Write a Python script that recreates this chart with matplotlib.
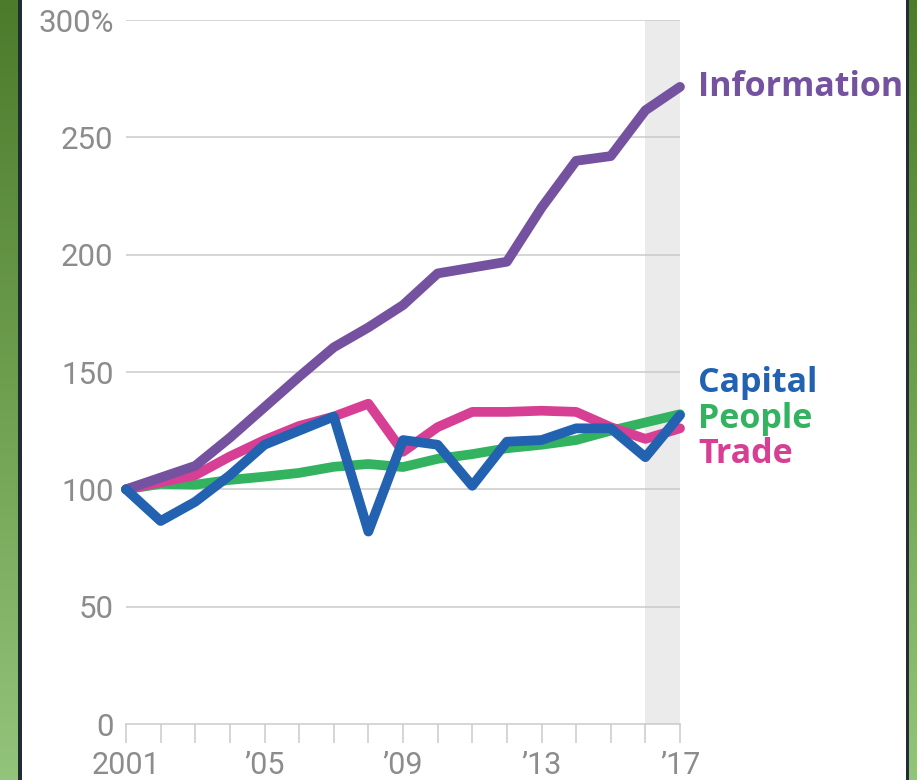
import matplotlib
matplotlib.use("Agg")
import matplotlib.pyplot as plt
import numpy as np
from matplotlib.patches import Rectangle
from matplotlib.colors import LinearSegmentedColormap

# ---- data ----
years = list(range(2001, 2018))
information = [100, 105, 110, 122, 135, 148, 160.5, 169, 178.5, 192, 194.5, 197, 220, 240, 242, 261.5, 271.5]
trade = [100, 103, 106, 114, 121, 127, 131, 136.5, 116, 126.5, 133, 133, 133.5, 133, 126.5, 121.5, 126]
people = [100, 102.3, 102, 104, 105.4, 107, 109.6, 110.8, 109.5, 113, 115, 117.5, 119, 121, 125, 128.5, 132]
capital = [100, 86.5, 94.7, 106, 119, 125, 131, 82, 121, 119, 101.5, 120.3, 121, 126, 126, 113.7, 131.6]
ytick_vals = [0, 50, 100, 150, 200, 250, 300]
ytick_labels = ["0", "50", "100", "150", "200", "250", "300%"]
xtick_label_map = {2001: "2001", 2005: "\u201905", 2009: "\u201909", 2013: "\u201913", 2017: "\u201917"}
series_names = ["Information", "Capital", "People", "Trade"]

W, H = 917, 780
fig = plt.figure(figsize=(W / 100, H / 100), dpi=100)

# ---- background: green gradient + white panel with dark borders ----
bg = fig.add_axes([0, 0, 1, 1], zorder=-10)
cmap = LinearSegmentedColormap.from_list("g", ["#4c7b2c", "#6e9f4f", "#93c47b"])
grad = np.linspace(0, 1, 256).reshape(-1, 1)
bg.imshow(grad, aspect="auto", cmap=cmap, extent=[0, 1, 0, 1], origin="upper")
bg.set_xlim(0, 1); bg.set_ylim(0, 1)
bg.axis("off")
bg.add_patch(Rectangle((18 / W, 0), (909 - 18) / W, 1, facecolor="#222c35", edgecolor="none"))
bg.add_patch(Rectangle((22 / W, 0), (906 - 22) / W, 1, facecolor="white", edgecolor="none"))

# ---- main axes ----
ax = fig.add_axes([126 / W, 56 / H, 554 / W, 704 / H])
ax.patch.set_visible(False)
ax.set_xlim(2001, 2017)
ax.set_ylim(0, 300)

grid_c = "#cacaca"
ax.axvspan(2016, 2017, color="#ebebeb", zorder=0, lw=0)
for v in ytick_vals[1:]:
    ax.axhline(v, color=grid_c, lw=1.1, zorder=1)

for s in ["top", "right", "left"]:
    ax.spines[s].set_visible(False)
ax.spines["bottom"].set_color(grid_c)
ax.spines["bottom"].set_linewidth(1.1)

lw = 7
kw = dict(lw=lw, solid_joinstyle="round", solid_capstyle="round", clip_on=False)
ax.plot(years, people, color="#33b35f", zorder=3, **kw)
ax.plot(years, trade, color="#d63f93", zorder=4, **kw)
ax.plot(years, information, color="#7452a0", zorder=5, **kw)
ax.plot(years, capital, color="#2262b0", zorder=6, **kw)

# ticks
ax.set_xticks(years)
ax.set_xticklabels([xtick_label_map.get(y, "") for y in years])
ax.tick_params(axis="x", direction="out", length=13.7, width=1.1, color=grid_c,
               pad=6, labelsize=22, labelcolor="#8c8c8c")
ax.set_yticks(ytick_vals)
ax.set_yticklabels(ytick_labels)
ax.tick_params(axis="y", length=0, pad=9, labelsize=22.5, labelcolor="#8c8c8c")
for lab in ax.get_xticklabels() + ax.get_yticklabels():
    lab.set_fontfamily("Roboto")
    lab.set_fontweight("normal")

# series labels
label_font = dict(fontfamily="Open Sans", fontweight="bold", fontsize=24.5, clip_on=False)
lx = 2017 + 18 / 34.625
ax.text(lx, (724 - 96) / 2.3467, series_names[0], color="#7452a0", va="baseline", ha="left", **label_font)
ax.text(lx, (724 - 392) / 2.3467, series_names[1], color="#2262b0", va="baseline", ha="left", **label_font)
ax.text(lx, (724 - 428) / 2.3467, series_names[2], color="#33b35f", va="baseline", ha="left", **label_font)
ax.text(lx, (724 - 463) / 2.3467, series_names[3], color="#d63f93", va="baseline", ha="left", **label_font)

fig.savefig("out.png", dpi=100)
